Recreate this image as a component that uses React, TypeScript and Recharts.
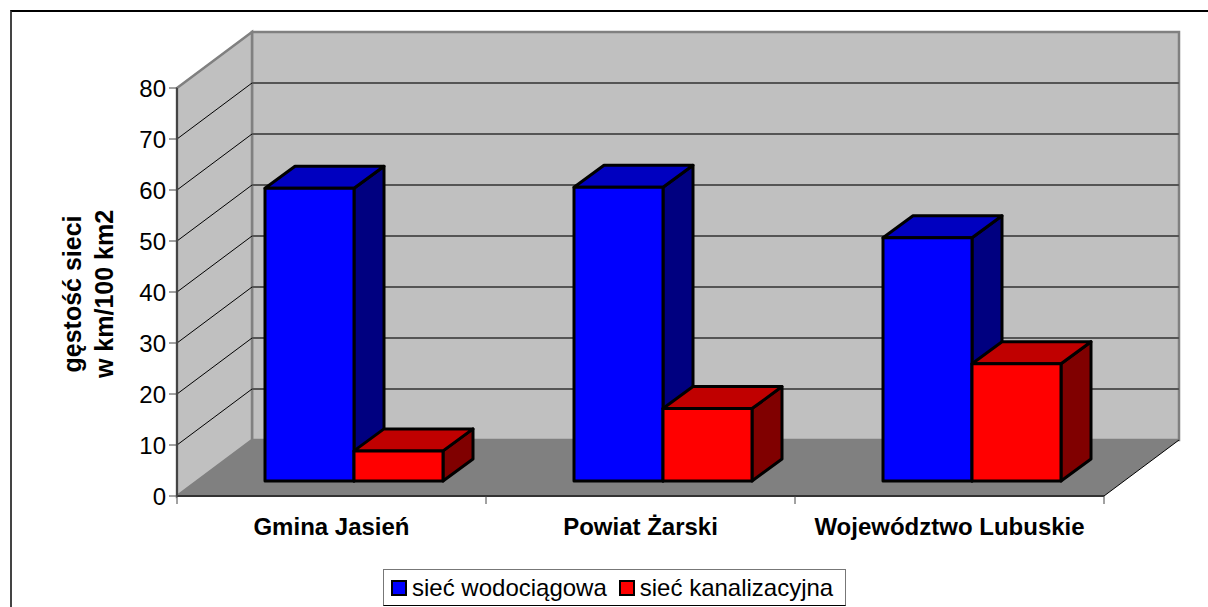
import { BarChart, Bar, XAxis, YAxis, CartesianGrid, Legend, Customized } from 'recharts'

const CATEGORIES = ['Gmina Jasień', 'Powiat Żarski', 'Województwo Lubuskie']
const WODOCIAGOWA = [57.4, 57.6, 47.7]
const KANALIZACYJNA = [5.9, 14.2, 23]
const Y_TICKS = [0, 10, 20, 30, 40, 50, 60, 70, 80]
const SERIES_WATER = 'sieć wodociągowa'
const SERIES_SEWER = 'sieć kanalizacyjna'

const data = CATEGORIES.map((name, i) => ({
  name,
  water: WODOCIAGOWA[i],
  sewer: KANALIZACYJNA[i],
}))

const FONT = '"Liberation Sans", Arial, sans-serif'

// how far the back wall sits from the front of the box
const WALL_DX = 75
const WALL_DY = -56
// bars stand a bit inside the floor
const BAR_DX = 22
const BAR_DY = -15
const BAR_DEPTH_X = 30
const BAR_DEPTH_Y = -22

function Walls({ x, y, width, height }: { x: number; y: number; width: number; height: number }) {
  const b = y + height
  const r = x + width
  return (
    <g>
      {/* back wall */}
      <rect x={x + WALL_DX} y={y + WALL_DY} width={width} height={height} fill="#c0c0c0" stroke="#808080" strokeWidth={2.5} />
      {/* side wall */}
      <polygon
        points={`${x},${y} ${x + WALL_DX},${y + WALL_DY} ${x + WALL_DX},${b + WALL_DY} ${x},${b}`}
        fill="#c0c0c0"
        stroke="#808080"
        strokeWidth={2.5}
      />
      {/* floor */}
      <polygon
        points={`${x},${b} ${x + WALL_DX},${b + WALL_DY} ${r + WALL_DX},${b + WALL_DY} ${r},${b}`}
        fill="#808080"
      />
      <line x1={r} y1={b} x2={r + WALL_DX} y2={b + WALL_DY} stroke="#000" strokeWidth={1} />
    </g>
  )
}

function AxisTitle() {
  return (
    <text
      transform="translate(96 294) rotate(-90)"
      textAnchor="middle"
      fontFamily={FONT}
      fontWeight="bold"
      fontSize={25}
      fill="#000"
    >
      <tspan x={0} y={-15}>gęstość sieci</tspan>
      <tspan x={0} y={17}>w km/100 km2</tspan>
    </text>
  )
}

// the grid is the lowest layer, so the walls go in with its first line
function GridLine(props: any) {
  const { x, y, width, height, x1, x2, y1, index } = props
  const backY = y1 + WALL_DY
  const edge = y1 <= y + 0.5 || y1 >= y + height - 0.5
  return (
    <g>
      {index === 0 && <Walls x={x} y={y} width={width} height={height} />}
      {!edge && <line x1={x1} y1={y1} x2={x1 + WALL_DX} y2={backY} stroke="#000" strokeWidth={1} />}
      {!edge && <line x1={x1 + WALL_DX} y1={backY} x2={x2 + WALL_DX} y2={backY} stroke="#555" strokeWidth={2} />}
    </g>
  )
}

function box3d(fronts: string[]) {
  return function Box(props: any) {
    const { x, y, width, height } = props
    const l = x + BAR_DX
    const t = y + BAR_DY
    const r = l + width
    const b = t + height
    const dx = BAR_DEPTH_X
    const dy = BAR_DEPTH_Y
    return (
      <g stroke="#000" strokeWidth={3} strokeLinejoin="round">
        <polygon points={`${r},${t} ${r + dx},${t + dy} ${r + dx},${b + dy} ${r},${b}`} fill={fronts[2]} />
        <polygon points={`${l},${t} ${l + dx},${t + dy} ${r + dx},${t + dy} ${r},${t}`} fill={fronts[1]} />
        <rect x={l} y={t} width={width} height={height} fill={fronts[0]} />
      </g>
    )
  }
}

const BlueBox = box3d(['#0000ff', '#0000c0', '#000080'])
const RedBox = box3d(['#ff0000', '#c00000', '#800000'])

function CategoryTick(props: any) {
  const { x, y, index, payload } = props
  const band = 309
  return (
    <g>
      <line x1={x - band / 2} y1={y - 8} x2={x - band / 2} y2={y} stroke="#444" strokeWidth={1} />
      {index === CATEGORIES.length - 1 && (
        <line x1={x + band / 2} y1={y - 8} x2={x + band / 2} y2={y} stroke="#444" strokeWidth={1} />
      )}
      <text x={x} y={y + 31} textAnchor="middle" fontFamily={FONT} fontWeight="bold" fontSize={24} fill="#000">
        {payload.value}
      </text>
    </g>
  )
}

function LegendBox() {
  const swatch = (color: string) => (
    <span style={{ display: 'inline-block', width: 12, height: 12, background: color, border: '2.5px solid #000' }} />
  )
  return (
    <div
      style={{
        boxSizing: 'border-box',
        width: 463,
        height: 37,
        border: '1.5px solid #000',
        borderTopColor: '#777',
        borderRightColor: '#777',
        borderLeftColor: '#777',
        background: '#fff',
        display: 'flex',
        alignItems: 'center',
        paddingLeft: 7,
        fontFamily: FONT,
        fontSize: 24,
        color: '#000',
        lineHeight: 1,
        whiteSpace: 'nowrap',
      }}
    >
      {swatch('#0000ff')}
      <span style={{ marginLeft: 5, marginRight: 12 }}>{SERIES_WATER}</span>
      {swatch('#ff0000')}
      <span style={{ marginLeft: 5 }}>{SERIES_SEWER}</span>
    </div>
  )
}

export default function App() {
  return (
    <div style={{ position: 'absolute', left: 0, top: 0, width: 1208, height: 607, overflow: 'hidden', background: '#fff' }}>
      <div
        style={{
          position: 'absolute',
          left: 10,
          top: 10,
          width: 1300,
          height: 700,
          borderTop: '2px solid #000',
          borderLeft: '2px solid #444',
        }}
      />
      <div style={{ position: 'absolute', left: 0, top: 0 }}>
        <BarChart
          width={1208}
          height={607}
          data={data}
          margin={{ top: 88, right: 104, bottom: 32, left: 117 }}
          barSize={89}
          barGap={0}
          barCategoryGap={65.5}
        >
          <CartesianGrid vertical={false} horizontal={GridLine} />
          <XAxis
            dataKey="name"
            axisLine={{ stroke: '#333', strokeWidth: 2 }}
            tickLine={false}
            tick={CategoryTick}
            height={42}
            interval={0}
          />
          <YAxis
            domain={[0, 80]}
            ticks={Y_TICKS}
            width={60}
            interval={0}
            axisLine={{ stroke: '#444', strokeWidth: 2 }}
            tickLine={{ stroke: '#444', strokeWidth: 1 }}
            tickSize={8}
            tickMargin={3}
            tick={{ fontFamily: FONT, fontSize: 24, fill: '#000' }}
          />
          <Bar dataKey="water" name={SERIES_WATER} shape={BlueBox} isAnimationActive={false} />
          <Bar dataKey="sewer" name={SERIES_SEWER} shape={RedBox} isAnimationActive={false} />
          <Customized component={AxisTitle} />
          <Legend
            content={LegendBox}
            wrapperStyle={{ position: 'absolute', left: 383, top: 569, width: 463, height: 37, bottom: 'auto' }}
          />
        </BarChart>
      </div>
    </div>
  )
}
